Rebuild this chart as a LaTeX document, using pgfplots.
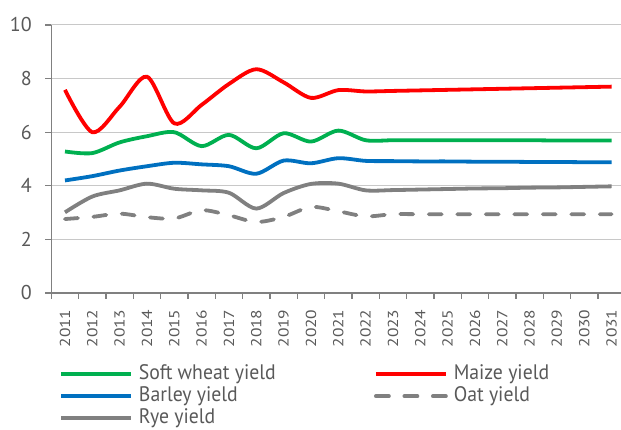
\documentclass[border=0pt]{standalone}
\usepackage{pgfplots}
\pgfplotsset{compat=1.18}
\usepackage{fontspec}
\setmainfont{PT Sans}
\newfontfamily\legfont{PT Sans}[FakeStretch=0.94]
\newfontfamily\xfont{PT Sans}[FakeStretch=1.2]
\definecolor{cgreen}{HTML}{00B050}
\definecolor{cred}{HTML}{FF0000}
\definecolor{cblue}{HTML}{0070C0}
\definecolor{cgray}{HTML}{808080}
\definecolor{ctext}{HTML}{595959}
\definecolor{cgrid}{HTML}{C8C8C8}
\begin{document}
\begin{tikzpicture}
\begin{axis}[
  name=ax,
  scale only axis, width=574pt, height=268pt,
  xmin=2010.5, xmax=2031.5, ymin=0, ymax=10,
  axis x line*=bottom, axis y line*=left,
  axis line style={color=cgray, line width=1.2pt},
  every tick/.style={color=cgray, line width=1.2pt},
  tick align=outside, major tick length=6pt,
  ytick={0,2,...,10},
  ymajorgrids, grid style={cgrid, line width=1pt},
  xtick={2010.5,2011.5,...,2031.5}, xticklabels={},
  extra x ticks={2011,2012,...,2031},
  extra x tick labels={2011,2012,2013,2014,2015,2016,2017,2018,2019,2020,2021,2022,2023,2024,2025,2026,2027,2028,2029,2030,2031},
  extra x tick style={major tick length=0pt, grid=none},
  xticklabel shift=13pt,
  xticklabel style={rotate=90, anchor=east, font=\xfont\fontsize{14.5}{16}\selectfont, text=ctext},
  yticklabel style={xshift=-10pt, font=\fontsize{20}{22}\selectfont, text=ctext},
  /pgf/number format/assume math mode=true,
  legend columns=2,
  legend cell align=left,
  legend style={at={(0.0134,-0.265)}, anchor=north west, draw=none, fill=none,
    inner sep=0pt, nodes={inner sep=0pt, text height=15pt, text depth=5pt},
    font=\legfont\fontsize{21}{23}\selectfont, text=ctext, row sep=2pt,
    /tikz/every odd column/.append style={column sep=6pt},
    /tikz/every even column/.append style={column sep=0pt}},
  legend image code/.code={\draw[#1] (0pt,0pt) -- (70pt,0pt);},
  every axis plot/.append style={line width=3.8pt, smooth, tension=0.5},
]
\addplot[cgreen] coordinates {(2011,5.28)(2012,5.22)(2013,5.62)(2014,5.85)(2015,6.0)(2016,5.48)(2017,5.9)(2018,5.4)(2019,5.96)(2020,5.65)(2021,6.06)(2022,5.70)(2023,5.70)(2024,5.70)(2025,5.70)(2026,5.70)(2027,5.70)(2028,5.70)(2029,5.69)(2030,5.69)(2031,5.69)};
\addlegendentry{\makebox[235pt][l]{Soft wheat yield}}
\addplot[cred] coordinates {(2011,7.58)(2012,6.0)(2013,6.95)(2014,8.07)(2015,6.33)(2016,7.02)(2017,7.8)(2018,8.35)(2019,7.86)(2020,7.28)(2021,7.57)(2022,7.52)(2023,7.54)(2024,7.56)(2025,7.58)(2026,7.60)(2027,7.62)(2028,7.64)(2029,7.66)(2030,7.68)(2031,7.70)};
\addlegendentry{Maize yield}
\addplot[cblue] coordinates {(2011,4.2)(2012,4.36)(2013,4.57)(2014,4.73)(2015,4.86)(2016,4.8)(2017,4.73)(2018,4.45)(2019,4.94)(2020,4.84)(2021,5.03)(2022,4.93)(2023,4.92)(2024,4.91)(2025,4.91)(2026,4.90)(2027,4.90)(2028,4.89)(2029,4.89)(2030,4.88)(2031,4.88)};
\addlegendentry{\makebox[235pt][l]{Barley yield}}
\addplot[cgray, line cap=round, dash pattern=on 13pt off 15.5pt] coordinates {(2011,2.76)(2012,2.84)(2013,2.96)(2014,2.83)(2015,2.78)(2016,3.09)(2017,2.9)(2018,2.65)(2019,2.84)(2020,3.21)(2021,3.05)(2022,2.86)(2023,2.94)(2024,2.94)(2025,2.94)(2026,2.94)(2027,2.94)(2028,2.94)(2029,2.94)(2030,2.94)(2031,2.94)};
\addlegendentry{Oat yield}
\addplot[cgray] coordinates {(2011,3.01)(2012,3.6)(2013,3.83)(2014,4.08)(2015,3.89)(2016,3.83)(2017,3.74)(2018,3.15)(2019,3.73)(2020,4.07)(2021,4.08)(2022,3.83)(2023,3.84)(2024,3.86)(2025,3.88)(2026,3.90)(2027,3.91)(2028,3.93)(2029,3.94)(2030,3.96)(2031,3.98)};
\addlegendentry{Rye yield}
\end{axis}
\pgfresetboundingbox
\path ([xshift=-51.3pt,yshift=-137pt]ax.south west) rectangle ([xshift=569.7pt,yshift=25pt]ax.north west);
\end{tikzpicture}
\end{document}
